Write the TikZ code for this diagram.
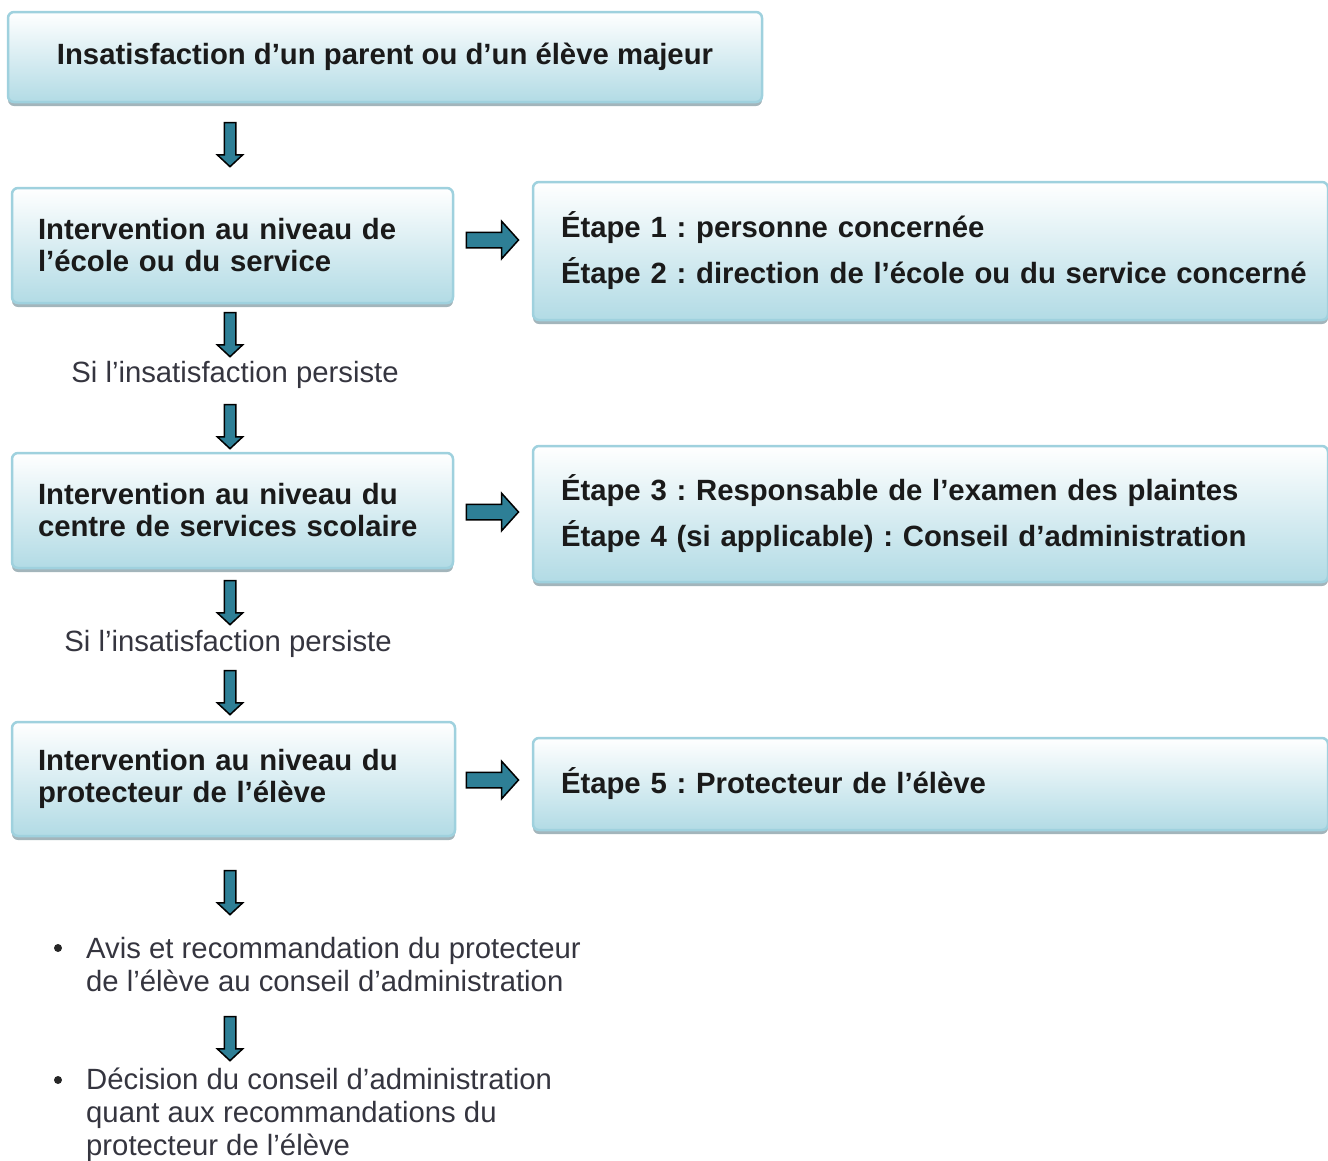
\documentclass[tikz,border=0pt]{standalone}
\usepackage{fontspec}
\setmainfont{Liberation Sans}
\frenchspacing
\usetikzlibrary{shapes.arrows,shadows}
\definecolor{boxbot}{HTML}{B2DBE5}
\definecolor{boxline}{HTML}{9FD1DE}
\definecolor{shadowc}{HTML}{A3B5BB}
\definecolor{arrowfill}{HTML}{2E7F96}
\definecolor{txt}{HTML}{1A1A1A}
\definecolor{plaintxt}{HTML}{35353F}
\tikzset{
  box/.style={draw=boxline, line width=2.5pt, rounded corners=6pt,
    top color=white, bottom color=boxbot,
    drop shadow={shadow xshift=0pt, shadow yshift=-4pt, fill=shadowc, opacity=1},
    font=\bfseries\fontsize{29.3}{32}\selectfont, text=txt, align=left},
  stepbox/.style={box, font=\bfseries\fontsize{29.3}{46}\selectfont},
  darr/.style={single arrow, draw=black, fill=arrowfill, line width=1.5pt,
    inner sep=5pt, single arrow head extend=7pt, single arrow tip angle=94,
    minimum height=44pt, rotate=-90},
  rarr/.style={single arrow, draw=black, fill=arrowfill, line width=1.5pt,
    inner sep=7pt, single arrow head extend=11pt, single arrow tip angle=96,
    minimum height=52pt},
  plain/.style={font=\fontsize{29.3}{33}\selectfont, text=plaintxt, align=left, inner sep=0pt},
  bul/.style={circle, fill=black!85, inner sep=0pt, minimum size=8pt}
}
\begin{document}
\begin{tikzpicture}[x=1pt,y=-1pt]
\useasboundingbox (0,0) rectangle (1328,1160);
% top box
\node[box, minimum width=754pt, minimum height=90pt, align=center] (top) at (385,57)
  {Insatisfaction d'un parent ou d'un élève majeur};
\node[darr] (a1) at (230,142) {};
% level 1
\node[box, minimum width=441pt, minimum height=115pt, text width=389pt, inner xsep=26pt] (l1) at (232.5,245.5)
  {Intervention au niveau de\\l'école ou du service};
\node[rarr] (r1) at (489,240) {};
\node[stepbox, minimum width=795pt, minimum height=138pt, text width=739pt, inner xsep=28pt] (s1) at (930.5,251)
  {\mbox{Étape 1 : personne concernée}\\\mbox{Étape 2 : direction de l'école ou du service concerné}};
\node[darr] (a2) at (230,332) {};
\node[plain, align=center] (p1) at (235,375) {Si l'insatisfaction persiste};
\node[darr] (a3) at (230,424) {};
% level 2
\node[box, minimum width=441pt, minimum height=115pt, text width=389pt, inner xsep=26pt] (l2) at (232.5,510.5)
  {Intervention au niveau du\\centre de services scolaire};
\node[rarr] (r2) at (489,512) {};
\node[stepbox, minimum width=795pt, minimum height=136pt, text width=739pt, inner xsep=28pt] (s2) at (930.5,514)
  {\mbox{Étape 3 : Responsable de l'examen des plaintes}\\\mbox{Étape 4 (si applicable) : Conseil d'administration}};
\node[darr] (a4) at (230,600) {};
\node[plain, align=center] (p2) at (228,644) {Si l'insatisfaction persiste};
\node[darr] (a5) at (230,690) {};
% level 3
\node[box, minimum width=443pt, minimum height=114pt, text width=391pt, inner xsep=26pt] (l3) at (233.5,779)
  {Intervention au niveau du\\protecteur de l'élève};
\node[rarr] (r3) at (489,780) {};
\node[stepbox, minimum width=795pt, minimum height=92pt, text width=739pt, inner xsep=28pt] (s3) at (930.5,784)
  {Étape 5 : Protecteur de l'élève};
\node[darr] (a6) at (230,890) {};
% outcomes
\node[bul] (b1) at (58,948) {};
\node[plain, anchor=west] (o1) at (86,965)
  {Avis et recommandation du protecteur\\de l'élève au conseil d'administration};
\node[darr] (a7) at (230,1036) {};
\node[bul] (b2) at (58,1080) {};
\node[plain, anchor=west] (o2) at (86,1115)
  {Décision du conseil d'administration\\quant aux recommandations du\\protecteur de l'élève};
\end{tikzpicture}
\end{document}
